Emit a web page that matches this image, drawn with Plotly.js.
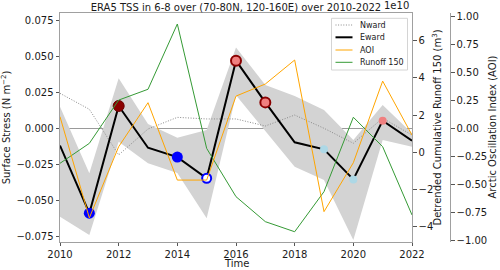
<!DOCTYPE html>
<html>
<head>
<meta charset="utf-8">
<script src="https://cdn.plot.ly/plotly-3.0.1.min.js"></script>
<style>html,body{margin:0;padding:0;background:#fff}#chart{width:500px;height:270px}</style>
</head>
<body>
<div id="chart"></div>
<script>
// ---- data ----
const years = [2010,2011,2012,2013,2014,2015,2016,2017,2018,2019,2020,2021,2022];
const eward = [-0.012,-0.059,0.0155,-0.0135,-0.020,-0.0347,0.047,0.018,-0.0097,-0.0146,-0.0355,0.0053,-0.0086];
const nward = [0.0243,0.0132,-0.0185,-0.0005,0.0076,0.0065,0.0065,0.0016,0.0092,0.0,-0.0104,0.007,-0.0047];
const bandUpper = [0.015,-0.0313,0.0347,0.003,-0.0065,-0.0012,0.0562,0.030,0.0225,0.0127,-0.0081,0.0162,-0.0035];
const bandLower = [-0.0614,-0.0741,-0.0093,-0.0243,-0.031,-0.0625,0.023,-0.002,-0.0267,-0.0359,-0.0776,-0.0081,-0.0128];
const aoi = [0.104,-0.80,-0.164,0.229,-0.462,-0.462,0.288,0.396,0.61,-0.744,-0.307,0.422,-0.06];
const runoff150_e10 = [-0.59,0.48,2.80,3.38,6.88,0.21,-2.38,-3.72,-4.26,-2.11,1.88,0.30,-3.36];
// marker class for each year of the Eward series
const markerClass = ['none','negStrong','posStrong','none','negStrong','negOpen','posEdge','posEdge','none','negWeak','negWeak','posWeak','none'];
const legendLabels = ['Nward','Eward','AOI','Runoff 150'];
const xTicks = [2010,2012,2014,2016,2018,2020,2022];
const leftTicks = [-0.075,-0.05,-0.025,0,0.025,0.05,0.075];
const runoffTicks = [-4,-2,0,2,4,6];
const aoiTicks = [-1,-0.75,-0.5,-0.25,0,0.25,0.5,0.75,1];

// ---- styles ----
const markerStyle = {
  none:      {color:'rgba(0,0,0,0)', size:0,  lc:'rgba(0,0,0,0)', lw:0},
  negStrong: {color:'#0000ff', size:11, lc:'#0000ff', lw:0},
  posStrong: {color:'#8b0000', size:11, lc:'#6a0000', lw:1},
  negOpen:   {color:'#ffffff', size:9,  lc:'#0000ff', lw:2},
  posEdge:   {color:'#f08080', size:10, lc:'#8b0000', lw:2},
  negWeak:   {color:'#add8e6', size:8,  lc:'#add8e6', lw:0},
  posWeak:   {color:'#f08080', size:8,  lc:'#f08080', lw:0}
};
const lineStyles = [
  {color:'#8a8a8a', width:1, dash:'1px,1.6px'},
  {color:'#000000', width:2, dash:'solid'},
  {color:'#ffa500', width:1, dash:'solid'},
  {color:'#359a35', width:1, dash:'solid'}
];
const F = 'DejaVu Sans, sans-serif';
const txt = '#1a1a1a';

// page geometry: paper spans x 60..460 px, plot area y 13..242 px
const ML = 60, MR = 40, MT = 13, MB = 28, W = 500, H = 270;
const PW = W - ML - MR, PH = H - MT - MB;
const px = v => (v - ML) / PW;          // pixel x -> paper x
const py = v => (H - MB - v) / PH;      // pixel y -> paper y

const traces = [
  {x:years, y:bandUpper, type:'scatter', mode:'lines', line:{width:0, color:'rgba(0,0,0,0)'}, hoverinfo:'skip', showlegend:false, xaxis:'x', yaxis:'y'},
  {x:years, y:bandLower, type:'scatter', mode:'lines', fill:'tonexty', fillcolor:'#d3d3d3', line:{width:0, color:'rgba(0,0,0,0)'}, hoverinfo:'skip', showlegend:false, xaxis:'x', yaxis:'y'},
  {x:years, y:nward, type:'scatter', mode:'lines', name:legendLabels[0], line:lineStyles[0], showlegend:false, xaxis:'x', yaxis:'y'},
  {x:years, y:eward, type:'scatter', mode:'lines', name:legendLabels[1], line:lineStyles[1], showlegend:false, xaxis:'x', yaxis:'y'},
  {x:years, y:eward, type:'scatter', mode:'markers', showlegend:false, hoverinfo:'skip',
   marker:{color:markerClass.map(c=>markerStyle[c].color), size:markerClass.map(c=>markerStyle[c].size),
           line:{color:markerClass.map(c=>markerStyle[c].lc), width:markerClass.map(c=>markerStyle[c].lw)}, opacity:1},
   xaxis:'x', yaxis:'y'},
  {x:years, y:aoi, type:'scatter', mode:'lines', name:legendLabels[2], line:lineStyles[2], showlegend:false, xaxis:'x', yaxis:'y3'},
  {x:years, y:runoff150_e10, type:'scatter', mode:'lines', name:legendLabels[3], line:lineStyles[3], showlegend:false, xaxis:'x', yaxis:'y2'}
];

// compact legend box like the reference (drawn with shapes + annotations)
const legBox = {x0:331.5, x1:407.5, y0:18.3, y1:70};
const legRowY = [25, 37.3, 50, 62.3];
const shapes = [{type:'rect', xref:'paper', yref:'paper', x0:px(legBox.x0), x1:px(legBox.x1), y0:py(legBox.y1), y1:py(legBox.y0),
  line:{color:'#d4d4d4', width:1}, fillcolor:'rgba(255,255,255,0.85)', layer:'above'}];
const annotations = [];
legendLabels.forEach((lab, i) => {
  shapes.push({type:'line', xref:'paper', yref:'paper', x0:px(335.5), x1:px(352.5), y0:py(legRowY[i]), y1:py(legRowY[i]),
    line:lineStyles[i], layer:'above'});
  annotations.push({text:lab, xref:'paper', yref:'paper', x:px(357.5), y:py(legRowY[i]), xanchor:'left', yanchor:'middle',
    showarrow:false, font:{family:F, size:8, color:txt}});
});
annotations.push({text:'1e10', xref:'paper', yref:'paper', x:px(411), y:py(13), xanchor:'right', yanchor:'bottom', showarrow:false, font:{family:F, size:10, color:txt}});
annotations.push({text:'Time', xref:'paper', yref:'paper', x:px(236), y:py(269.5), xanchor:'center', yanchor:'bottom', showarrow:false, font:{family:F, size:10, color:txt}, borderpad:0});
annotations.push({text:'Detrended Cumulative Runoff 150 (m<sup>3</sup>)', xref:'paper', yref:'paper', x:px(436), y:0.5, xanchor:'center', yanchor:'middle', textangle:-90, showarrow:false, font:{family:F, size:10, color:txt}});
annotations.push({text:'Arctic Oscillation Index (AOI)', xref:'paper', yref:'paper', x:px(492), y:0.5, xanchor:'center', yanchor:'middle', textangle:-90, showarrow:false, font:{family:F, size:10, color:txt}});

const axisCommon = {showgrid:false, showline:true, linecolor:'#a0a0a0', linewidth:1, ticks:'outside', ticklen:3.5, tickwidth:1, tickcolor:'#555', tickfont:{family:F, size:10, color:txt}};

const layout = {
  width:W, height:H,
  margin:{l:ML, r:MR, t:MT, b:MB, pad:0},
  paper_bgcolor:'#fff', plot_bgcolor:'#fff',
  font:{family:F, size:10, color:txt},
  title:{text:'ERA5 TSS in 6-8 over (70-80N, 120-160E) over 2010-2022', font:{family:F, size:10, color:txt}, x:px(236), xref:'paper', xanchor:'center', y:1-7.5/H, yref:'container', yanchor:'middle'},
  showlegend:false,
  xaxis:Object.assign({}, axisCommon, {domain:[0,px(412)], range:[2010,2022], tickvals:xTicks, mirror:true, zeroline:false, ticklen:3}),
  yaxis:Object.assign({}, axisCommon, {range:[-0.079,0.0801], tickvals:leftTicks, tickformat:'.3f', zeroline:true, zerolinecolor:'#9a9a9a', zerolinewidth:1, mirror:false,
    title:{text:'Surface Stress (N m<sup>−2</sup>)', font:{family:F, size:10, color:txt}, standoff:4}}),
  yaxis2:Object.assign({}, axisCommon, {overlaying:'y', side:'right', anchor:'x', range:[-4.81,7.47], tickvals:runoffTicks, tickformat:'d', zeroline:false}),
  yaxis3:Object.assign({}, axisCommon, {overlaying:'y', side:'right', anchor:'free', position:px(450), range:[-1.015,1.03], tickvals:aoiTicks, tickformat:'.2f', zeroline:false}),
  shapes:shapes,
  annotations:annotations
};

Plotly.newPlot('chart', traces, layout, {displayModeBar:false, staticPlot:true});
</script>
</body>
</html>
